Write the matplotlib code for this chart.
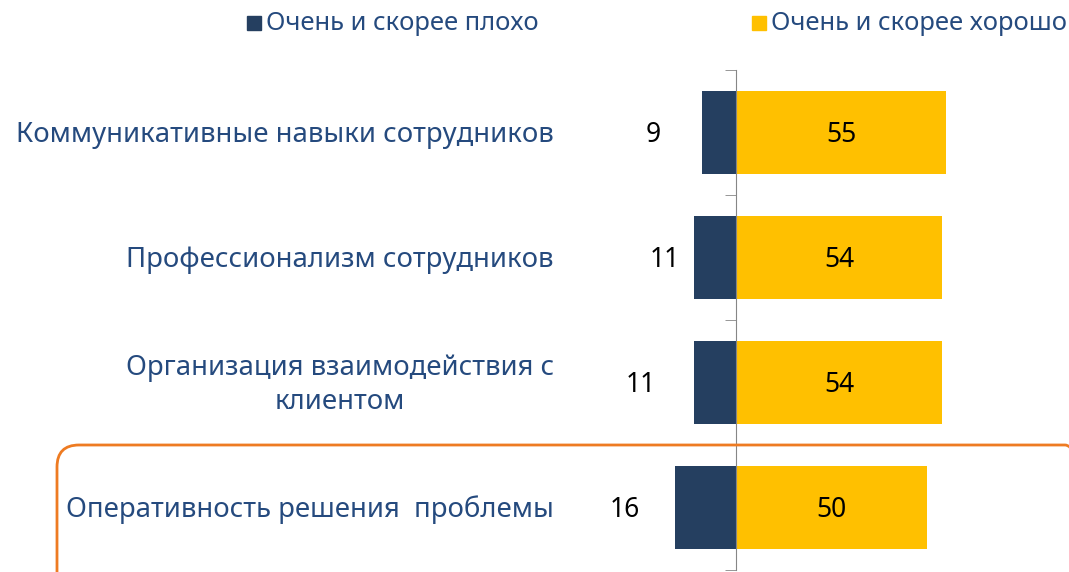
import matplotlib.pyplot as plt
import matplotlib.transforms as mtransforms
from matplotlib.patches import FancyBboxPatch, Rectangle

plt.rcParams['font.family'] = ['Noto Sans', 'DejaVu Sans']

# data
categories = ["Коммуникативные навыки сотрудников",
              "Профессионализм сотрудников",
              "Организация взаимодействия с\nклиентом",
              "Оперативность решения  проблемы"]
bad = [9, 11, 11, 16]
good = [55, 54, 54, 50]
series_names = ["Очень и скорее плохо", "Очень и скорее хорошо"]

# label x positions for the negative values (data units, as in the original)
bad_label_x = [-21.7, -18.6, -24.9, -29.0]

c_bad = "#253F60"
c_good = "#FFC000"
c_text = "#254A7E"

W, H = 1069, 572
fig = plt.figure(figsize=(W / 100, H / 100), dpi=100)

# axis: center at x=736 px, 3.82 px per unit, rows from y=70 to y=570
px_per_unit = 3.82
ax_left, ax_right = 560, 1069
ax = fig.add_axes([ax_left / W, 2 / H, (ax_right - ax_left) / W, 500 / H])
ax.set_xlim((ax_left - 736) / px_per_unit, (ax_right - 736) / px_per_unit)

y = list(range(len(categories)))
ax.barh(y, [-v for v in bad], height=0.66, color=c_bad)
ax.barh(y, good, height=0.66, color=c_good)
ax.set_ylim(3.5, -0.5)

for i in y:
    ax.text(good[i] / 2, i + 0.02, str(good[i]), ha="center", va="center",
            fontsize=19, color="black")
    ax.text(bad_label_x[i], i + 0.02, str(bad[i]), ha="center", va="center",
            fontsize=19, color="black")

# spines / ticks
for s in ["top", "right", "bottom"]:
    ax.spines[s].set_visible(False)
ax.spines["left"].set_position(("data", 0))
ax.spines["left"].set_color("#868686")
ax.set_xticks([])
ax.set_yticks([])
ax.set_yticks([-0.5, 0.5, 1.5, 2.5, 3.5], minor=True)
ax.tick_params(axis="y", which="minor", length=8, color="#868686",
               direction="out", labelleft=False)
ax.patch.set_alpha(0)

# category labels
trans = mtransforms.blended_transform_factory(fig.transFigure, ax.transData)
for i, cat in enumerate(categories):
    ax.text(554 / W, i + 0.02, cat, transform=trans, ha="right", va="center",
            multialignment="center", fontsize=19.8, color=c_text,
            linespacing=1.32, clip_on=False)

# legend
for xs, name, col in [(247, series_names[0], c_bad), (752, series_names[1], c_good)]:
    fig.add_artist(Rectangle((xs / 100, (H - 30) / 100), 0.14, 0.14,
                             transform=fig.dpi_scale_trans, color=col))
    fig.text((xs + 19) / W, 1 - 23 / H, name, ha="left", va="center",
             fontsize=18.4, color=c_text)

# highlight box around the last row
box = FancyBboxPatch((0.57, -0.5), 10.3, 1.77,
                     boxstyle="round,pad=0,rounding_size=0.22",
                     transform=fig.dpi_scale_trans, fill=False,
                     edgecolor="#EE7B22", linewidth=2, clip_on=False)
fig.add_artist(box)

fig.savefig("out.png", dpi=100)
